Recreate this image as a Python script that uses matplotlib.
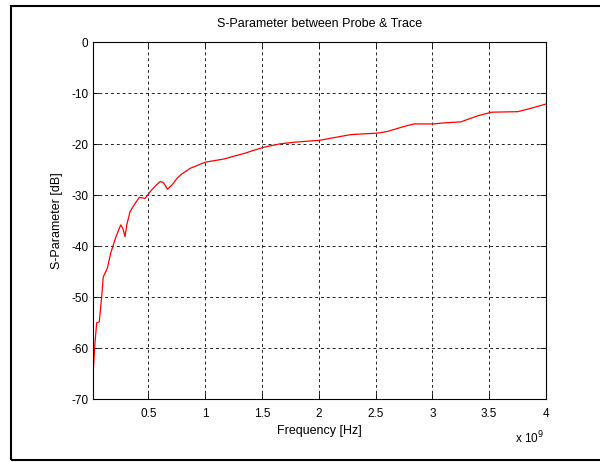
import matplotlib
matplotlib.use("Agg")
import matplotlib.pyplot as plt
from matplotlib.patches import Rectangle
from matplotlib.ticker import FuncFormatter

# frequency in GHz
freq_ghz = [0.009, 0.014, 0.029, 0.044, 0.067, 0.088, 0.102, 0.138, 0.168, 0.191,
            0.214, 0.256, 0.274, 0.294, 0.309, 0.338, 0.382, 0.42, 0.47, 0.515,
            0.559, 0.603, 0.632, 0.667, 0.706, 0.75, 0.794, 0.868, 1.0, 1.16,
            1.34, 1.51, 1.66, 1.78, 2.01, 2.28, 2.52, 2.60, 2.75, 2.84,
            3.01, 3.10, 3.25, 3.40, 3.52, 3.75, 3.84, 4.0]
s_db = [-69.8, -64.3, -59.0, -55.0, -54.8, -49.9, -46.0, -44.3, -41.3, -39.7,
        -38.1, -35.8, -36.5, -38.1, -35.8, -33.2, -31.6, -30.4, -30.6, -29.3,
        -28.2, -27.3, -27.5, -28.8, -28.0, -26.7, -25.8, -24.7, -23.5, -22.9,
        -21.8, -20.6, -19.9, -19.6, -19.2, -18.1, -17.8, -17.5, -16.5, -16.0,
        -16.0, -15.8, -15.6, -14.4, -13.7, -13.6, -13.1, -12.1]

xticks = [0.5, 1, 1.5, 2, 2.5, 3, 3.5, 4]
yticks = [0, -10, -20, -30, -40, -50, -60, -70]

plt.rcParams['font.family'] = ['Liberation Sans', 'DejaVu Sans']
plt.rcParams['font.size'] = 8.5
plt.rcParams['axes.unicode_minus'] = False

fig = plt.figure(figsize=(6, 4.62), dpi=100)
# outer frame around the figure
fig.patches.append(Rectangle((11 / 600, 2 / 462), 1.0, 454 / 462, transform=fig.transFigure,
                             fill=False, edgecolor='black', linewidth=1.5))

ax = fig.add_axes([0.1545, 0.1357, 0.7555, 0.7727])
freq = [f * 1e9 for f in freq_ghz]
ax.plot(freq, s_db, color='red', linewidth=0.9)

ax.set_xlim(0.009e9, 4e9)
ax.set_ylim(-70, 0)
ax.set_xticks([t * 1e9 for t in xticks])
ax.xaxis.set_major_formatter(FuncFormatter(lambda v, p: '%g' % (v / 1e9)))
ax.set_yticks(yticks)
ax.tick_params(direction='in', top=True, right=True, length=4, width=0.6, pad=3,
               labelsize=8.5)
ax.tick_params(axis='x', pad=6)
ax.grid(True, color='#222222', linestyle=(0, (3, 3)), linewidth=0.7)
for s in ax.spines.values():
    s.set_linewidth(0.8)

ax.set_title('S-Parameter between Probe & Trace', fontsize=9, pad=11)
ax.set_xlabel('Frequency [Hz]', fontsize=9, labelpad=4)
ax.set_ylabel('S-Parameter [dB]', fontsize=9, labelpad=6)
fig.text(515 / 600, 1 - 438 / 462, r'x 10$^{9}$', fontsize=8.5, va='center')

fig.savefig('out.png', dpi=100)
